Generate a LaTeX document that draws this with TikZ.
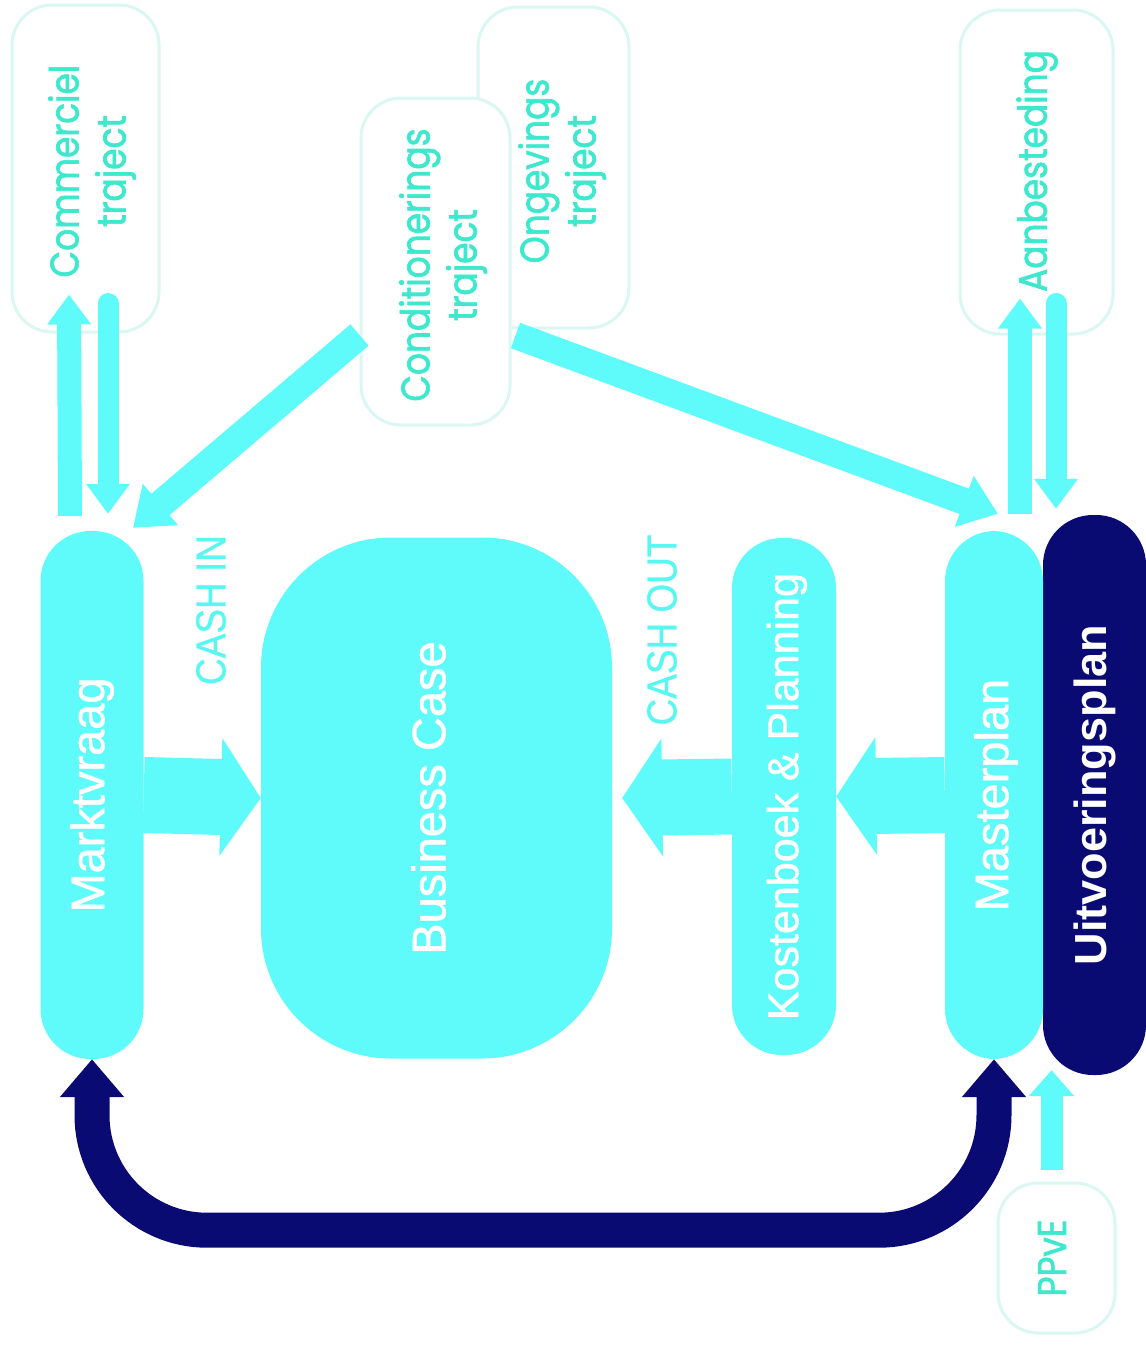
\documentclass[tikz,border=0pt]{standalone}
\usepackage{fontspec}
\setmainfont{Liberation Sans}
\newfontfamily\geofont[FakeStretch=0.86,FakeBold=1.6]{Poppins}
\newfontfamily\medfont[FakeBold=1.2]{Liberation Sans}
\newfontfamily\narrowfont[FakeStretch=0.88,FakeBold=0.6]{Liberation Sans}
\usetikzlibrary{arrows.meta,calc}
\definecolor{cyanfill}{RGB}{95,251,251}
\definecolor{navy}{RGB}{10,10,115}
\definecolor{teal}{RGB}{62,232,204}
\definecolor{paleline}{RGB}{218,247,242}
\tikzset{
  pill/.style={fill=cyanfill, draw=none, rounded corners=50pt, inner sep=0pt},
  bigbox/.style={fill=cyanfill, draw=none, rounded corners=130pt, inner sep=0pt},
  navypill/.style={fill=navy, draw=none, rounded corners=50pt, inner sep=0pt},
  outlinebox/.style={fill=white, draw=paleline, line width=3pt, rounded corners=40pt, inner sep=0pt},
  maintext/.style={rotate=90, text=white, font=\medfont\fontsize{47}{52}\selectfont, inner sep=0pt},
  toptext/.style={rotate=90, text=teal, align=center, font=\geofont\fontsize{40}{47}\selectfont, inner sep=0pt},
  cashtext/.style={rotate=90, text=cyanfill!80!teal, font=\narrowfont\fontsize{42}{46}\selectfont, inner sep=0pt},
  blockarrow/.style={draw=cyanfill, line width=76pt, -{Triangle[length=40pt,width=116pt]}},
  thinarrow/.style={draw=cyanfill, line width=24pt, -{Triangle[length=30pt,width=42pt]}},
  diagarrow/.style={draw=cyanfill, line width=28pt, -{Triangle[length=36pt,width=52pt]}},
  navyarrow/.style={draw=navy, line width=35pt, rounded corners=115pt, {Triangle[length=38pt,width=62pt]}-{Triangle[length=38pt,width=62pt]}}
}
\begin{document}
\begin{tikzpicture}[x=1pt,y=-1pt]
\useasboundingbox (0,0) rectangle (1146,1345);
% outline boxes
\node[outlinebox, minimum width=147pt, minimum height=327pt] (cm) at (85.5,168.5) {};
\node[outlinebox, minimum width=151pt, minimum height=321pt] (og) at (553.5,167.5) {};
\node[outlinebox, minimum width=149pt, minimum height=327pt] (cd) at (435.5,261.5) {};
\node[outlinebox, minimum width=153pt, minimum height=324pt] (ab) at (1036.5,172) {};
\node[outlinebox, minimum width=117pt, minimum height=150pt] (pp) at (1056.5,1258) {};
\node[toptext] (cmt) at (92,171) {Commerciel\\traject};
\node[toptext] (ogt) at (562,171) {Ongevings\\traject};
\node[toptext] (cdt) at (443,265) {Conditionerings\\traject};
\node[toptext] (abt) at (1037,171) {Aanbesteding};
\node[toptext] (ppt) at (1052,1258) {PPvE};
% main shapes
\node[pill, minimum width=103pt, minimum height=528pt] (mv) at (92,795) {};
\node[bigbox, minimum width=351pt, minimum height=521pt] (bc) at (436.5,798) {};
\node[pill, minimum width=104pt, minimum height=517pt] (kb) at (784,796.5) {};
\node[navypill, minimum width=103pt, minimum height=560pt] (up) at (1094.5,795) {};
\node[pill, minimum width=98pt, minimum height=528pt] (mp) at (994,795) {};
\node[maintext] (mvt) at (mv) {Marktvraag};
\node[maintext] (bct) at ([xshift=-8pt]bc.center) {Business Case};
\node[maintext, font=\medfont\fontsize{43}{48}\selectfont] (kbt) at ([xshift=3pt]kb.center) {Kostenboek \& Planning};
\node[maintext] (mpt) at ([xshift=2pt]mp.center) {Masterplan};
\node[maintext, font=\bfseries\fontsize{45}{50}\selectfont] (upt) at (up) {Uitvoeringsplan};
\node[cashtext] (cin) at (211,610) {CASH IN};
\node[cashtext] (cout) at (662,630) {CASH OUT};
% block arrows
\draw[blockarrow] (mv.east) -- (bc.west);
\draw[blockarrow] (kb.west) -- ([xshift=10pt]bc.east);
\draw[blockarrow] (mp.west) -- (kb.east);
% top arrows
\draw[thinarrow] ([xshift=-22pt,yshift=15pt]mv.north) -- ([xshift=-16.5pt,yshift=39pt]cm.south);
\draw[thinarrow, line width=21pt, line cap=round] ([xshift=22.5pt,yshift=30pt]cm.south) -- ([xshift=16pt,yshift=17pt]mv.north);
\draw[diagarrow] ([yshift=-73.5pt]cd.west) -- ([xshift=41pt,yshift=3pt]mv.north);
\draw[diagarrow, line width=27pt] ([xshift=4pt,yshift=-74pt]cd.east) -- ([xshift=4pt,yshift=17pt]mp.north);
\draw[thinarrow] ([xshift=26pt,yshift=17pt]mp.north) -- ([xshift=-16.5pt,yshift=37pt]ab.south);
\draw[thinarrow, line width=21pt, line cap=round] ([xshift=19.5pt,yshift=32pt]ab.south) -- ([xshift=62pt,yshift=22pt]mp.north);
% PPvE arrow
\draw[thinarrow, line width=22pt, -{Triangle[length=26pt,width=44pt]}] ([xshift=-5pt,yshift=12pt]pp.north) -- ([xshift=-43pt,yshift=5pt]up.south);
% navy loop
\draw[navyarrow] (mv.south) -- ($(mv.south)+(0,171)$) -| (mp.south);
\end{tikzpicture}
\end{document}
